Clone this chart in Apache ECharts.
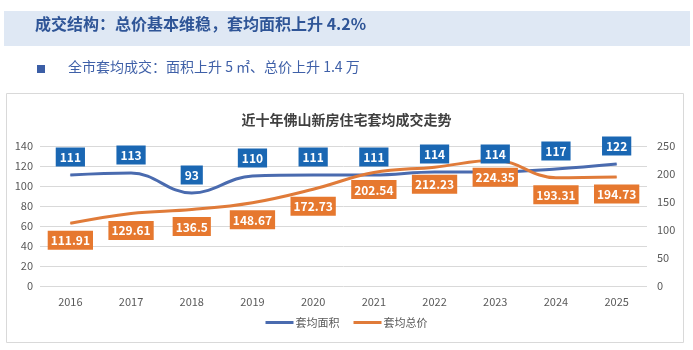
<!DOCTYPE html>
<html>
<head>
<meta charset="utf-8">
<style>
  html, body { margin: 0; padding: 0; background: #fff; }
  #chart { width: 693px; height: 350px; }
</style>
<script src="https://cdn.jsdelivr.net/npm/echarts@6/dist/echarts.min.js"></script>
</head>
<body>
<div id="chart"></div>
<script>
// 年份
var years = ['2016', '2017', '2018', '2019', '2020', '2021', '2022', '2023', '2024', '2025'];
// 套均面积（㎡）
var avgArea = [111, 113, 93, 110, 111, 111, 114, 114, 117, 122];
// 套均总价（万元）
var avgPrice = [111.91, 129.61, 136.5, 148.67, 172.73, 202.54, 212.23, 224.35, 193.31, 194.73];

var font = '"Noto Sans CJK SC", "Noto Sans", sans-serif';

function initChart() {
    var chart = echarts.init(document.getElementById('chart'));
    var option = {
        animation: false,
        textStyle: { fontFamily: font },
        graphic: [
            { type: 'rect', shape: { x: 4, y: 11, width: 686, height: 35 }, style: { fill: '#dfe8f4' } },
            { type: 'text', left: 35, top: 16, style: { text: '成交结构：总价基本维稳，套均面积上升 4.2%', fill: '#2f5597', font: 'bold 16px ' + font } },
            { type: 'rect', shape: { x: 37, y: 65, width: 8, height: 8 }, style: { fill: '#3b5ea6' } },
            { type: 'text', left: 68, top: 60, style: { text: '全市套均成交：面积上升 5 ㎡、总价上升 1.4 万', fill: '#3f60a8', font: '14px ' + font } },
            { type: 'rect', shape: { x: 6.5, y: 93.5, width: 677, height: 249 }, style: { fill: 'none', stroke: '#d9d9d9', lineWidth: 1 } }
        ],
        title: {
            text: '近十年佛山新房住宅套均成交走势',
            left: 'center',
            top: 108,
            textStyle: { fontSize: 14, fontWeight: 'bold', color: '#404040', fontFamily: font }
        },
        legend: {
            bottom: 17,
            left: 'center',
            itemWidth: 28,
            itemHeight: 3,
            itemGap: 14,
            textStyle: { fontSize: 11, color: '#595959', padding: [0, 0, 0, -3] },
            data: [
                { name: '套均面积', icon: 'rect' },
                { name: '套均总价', icon: 'rect' }
            ]
        },
        grid: { left: 40, right: 46, top: 146, bottom: 64 },
        xAxis: {
            type: 'category',
            data: years,
            axisLine: { show: false },
            axisTick: { show: false },
            axisLabel: { color: '#595959', fontSize: 11, margin: 10 }
        },
        yAxis: [
            {
                type: 'value',
                min: 0, max: 140, interval: 20,
                axisLine: { show: false },
                axisTick: { show: false },
                axisLabel: { color: '#595959', fontSize: 11, margin: 7 },
                splitLine: { lineStyle: { color: '#d9d9d9' } }
            },
            {
                type: 'value',
                min: 0, max: 250, interval: 50,
                axisLine: { show: false },
                axisTick: { show: false },
                axisLabel: { color: '#595959', fontSize: 11, margin: 10 },
                splitLine: { show: false }
            }
        ],
        series: [
            {
                name: '套均面积',
                type: 'line',
                data: avgArea,
                yAxisIndex: 0,
                smooth: 0.4,
                symbol: 'circle',
                symbolSize: 1,
                showSymbol: true,
                lineStyle: { width: 3, color: '#4a6baf' },
                itemStyle: { color: '#4a6baf' },
                label: {
                    show: true,
                    position: 'top',
                    distance: 8,
                    color: '#fff',
                    fontSize: 12,
                    fontWeight: 'bold',
                    backgroundColor: '#1a67b3',
                    padding: [4, 4, 3, 4]
                }
            },
            {
                name: '套均总价',
                type: 'line',
                data: avgPrice,
                yAxisIndex: 1,
                smooth: 0.4,
                symbol: 'circle',
                symbolSize: 1,
                showSymbol: true,
                lineStyle: { width: 3, color: '#e07b39' },
                itemStyle: { color: '#e07b39' },
                label: {
                    show: true,
                    position: 'bottom',
                    distance: 7,
                    color: '#fff',
                    fontSize: 12,
                    fontWeight: 'bold',
                    backgroundColor: '#e6782f',
                    padding: [4, 3, 3, 3]
                }
            }
        ]
    };
    chart.setOption(option);
}

initChart();
</script>
</body>
</html>
